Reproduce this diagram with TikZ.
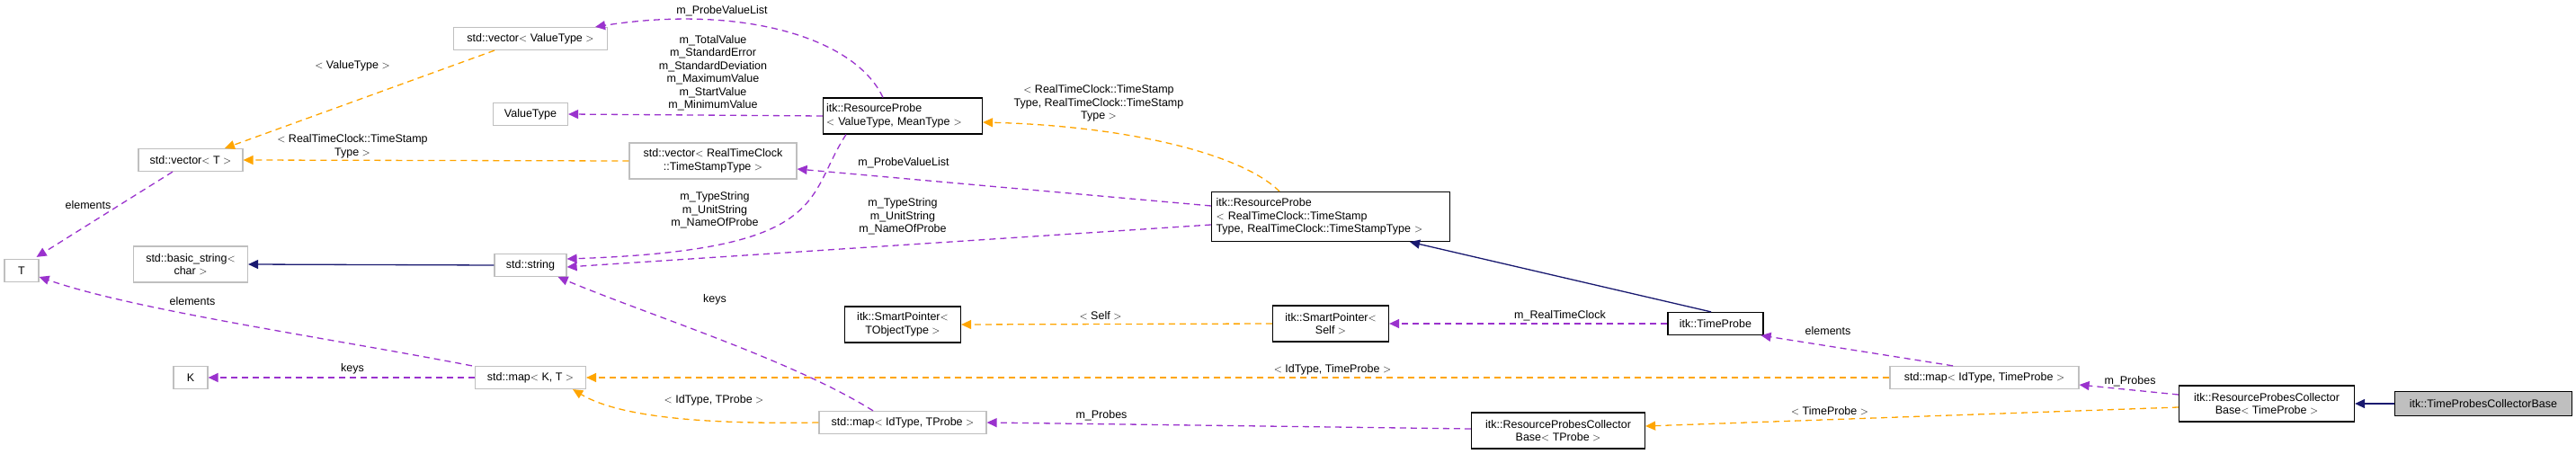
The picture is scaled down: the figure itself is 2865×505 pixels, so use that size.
\documentclass[tikz,border=0pt]{standalone}
\usepackage{fontspec}
\setmainfont{Liberation Sans}
\usetikzlibrary{arrows.meta}
\definecolor{purp}{HTML}{9A32CD}
\definecolor{orng}{HTML}{FFA500}
\definecolor{navy}{HTML}{191970}
\definecolor{gbord}{HTML}{BFBFBF}
\begin{document}
\begin{tikzpicture}[x=1pt,y=-1pt,
  font=\fontsize{12.5}{14.5}\selectfont,
  box/.style={draw=gbord,line width=1.2pt,rectangle,inner sep=2pt,align=center},
  bbox/.style={draw=black,line width=1.2pt,rectangle,inner sep=2pt,align=center},
  lbl/.style={inner sep=0pt,align=center},
  tip/.style={-{Triangle[length=11pt,width=10pt]}},
  mem/.style={tip,draw=purp,line width=1.3pt,dash pattern=on 7pt off 5pt},
  tmpl/.style={tip,draw=orng,line width=1.3pt,dash pattern=on 7pt off 5pt},
  inh/.style={tip,draw=navy,line width=1.3pt}]
\useasboundingbox (0,0) rectangle (2865,505);
% nodes
\node[box,minimum width=171pt,minimum height=25pt] (vecVT) at (590,43) {std::vector$<$ ValueType $>$};
\node[box,minimum width=83pt,minimum height=25pt] (VT) at (590,127) {ValueType};
\node[box,minimum width=116pt,minimum height=25pt] (vecT) at (212,178) {std::vector$<$ T $>$};
\node[box,minimum width=186pt,minimum height=40pt] (vecRTC) at (793,179) {std::vector$<$ RealTimeClock\\::TimeStampType $>$};
\node[box,minimum width=38pt,minimum height=25pt] (T) at (24,301) {T};
\node[box,minimum width=127pt,minimum height=40pt] (bstr) at (212,294) {std::basic\_string$<$\\char $>$};
\node[box,minimum width=80pt,minimum height=25pt] (str) at (590,295) {std::string};
\node[box,minimum width=38pt,minimum height=25pt] (K) at (212,420) {K};
\node[box,minimum width=123pt,minimum height=25pt] (mapKT) at (590,420) {std::map$<$ K, T $>$};
\node[box,minimum width=186pt,minimum height=25pt] (mapIT) at (1004,470) {std::map$<$ IdType, TProbe $>$};
\node[bbox,minimum width=177pt,minimum height=40pt,align=left,text width=170pt] (RPVT) at (1004,129) {itk::ResourceProbe\\$<$ ValueType, MeanType $>$};
\node[bbox,minimum width=265pt,minimum height=55pt,align=left,text width=255pt] (RPRTC) at (1480,241) {itk::ResourceProbe\\$<$ RealTimeClock::TimeStamp\\Type, RealTimeClock::TimeStampType $>$};
\node[bbox,minimum width=129pt,minimum height=40pt] (SPT) at (1004,361) {itk::SmartPointer$<$\\TObjectType $>$};
\node[bbox,minimum width=129pt,minimum height=40pt] (SPS) at (1480,360) {itk::SmartPointer$<$\\Self $>$};
\node[bbox,minimum width=106pt,minimum height=25pt] (TP) at (1908,360) {itk::TimeProbe};
\node[bbox,minimum width=193pt,minimum height=40pt] (RPCBT) at (1733,479) {itk::ResourceProbesCollector\\Base$<$ TProbe $>$};
\node[box,minimum width=210pt,minimum height=25pt] (mapITP) at (2207,420) {std::map$<$ IdType, TimeProbe $>$};
\node[bbox,minimum width=195pt,minimum height=40pt] (RPCBTP) at (2521,449) {itk::ResourceProbesCollector\\Base$<$ TimeProbe $>$};
\node[bbox,fill=gbord,minimum width=197pt,minimum height=27pt] (TPCB) at (2762,449) {itk::TimeProbesCollectorBase};
% edges
\draw[mem] ([xshift=-22pt]RPVT.north) .. controls (950,40) and (820,5) .. ([xshift=-14pt]vecVT.north east);
\node[lbl] (l1) at (803,12) {m\_ProbeValueList};
\draw[mem] (RPVT.west) -- (VT.east);
\node[lbl] (l2) at (793,81) {m\_TotalValue\\m\_StandardError\\m\_StandardDeviation\\m\_MaximumValue\\m\_StartValue\\m\_MinimumValue};
\draw[mem] ([xshift=-63pt]RPVT.south) .. controls (895,220) and (925,278) .. ([yshift=7pt]str.east);
\node[lbl] (l3) at (795,234) {m\_TypeString\\m\_UnitString\\m\_NameOfProbe};
\draw[tmpl] ([xshift=-40pt]vecVT.south) -- ([xshift=38pt]vecT.north);
\node[lbl] (l4) at (392,73) {$<$ ValueType $>$};
\draw[tmpl] (vecRTC.west) -- (vecT.east);
\node[lbl] (l5) at (392,163) {$<$ RealTimeClock::TimeStamp\\Type $>$};
\draw[mem] ([xshift=-20pt]vecT.south) -- ([xshift=-3pt,yshift=2pt]T.north east);
\node[lbl,fill=white,inner sep=2pt] (l6) at (98,228) {elements};
\draw[inh] (str.west) -- (bstr.east);
\draw[mem] ([xshift=-3pt]mapKT.north west) .. controls (360,375) and (150,345) .. ([yshift=-7pt]T.east);
\node[lbl] (l7) at (214,335) {elements};
\draw[mem] (mapKT.west) -- (K.east);
\node[lbl] (l8) at (392,410) {keys};
\draw[mem] ([xshift=-33pt]mapIT.north) .. controls (880,400) and (720,350) .. ([xshift=-10pt]str.south east);
\node[lbl] (l9) at (795,333) {keys};
\draw[tmpl] (mapIT.west) .. controls (790,472) and (690,465) .. ([xshift=-15pt]mapKT.south east);
\node[lbl] (l10) at (794,445) {$<$ IdType, TProbe $>$};
\draw[tmpl] ([xshift=-57pt]RPRTC.north) .. controls (1380,170) and (1250,140) .. ([yshift=-7pt]RPVT.east);
\node[lbl] (l11) at (1222,115) {$<$ RealTimeClock::TimeStamp\\Type, RealTimeClock::TimeStamp\\Type $>$};
\draw[mem] ([yshift=12pt]RPRTC.west) -- ([yshift=-9pt]vecRTC.east);
\node[lbl] (l12) at (1005,181) {m\_ProbeValueList};
\draw[mem] ([yshift=-9pt]RPRTC.west) -- ([yshift=-2pt]str.east);
\node[lbl] (l13) at (1004,241) {m\_TypeString\\m\_UnitString\\m\_NameOfProbe};
\draw[inh] ([xshift=-5pt]TP.north) -- ([xshift=-45pt]RPRTC.south east);
\draw[tmpl] (SPS.west) -- (SPT.east);
\node[lbl] (l14) at (1224,351) {$<$ Self $>$};
\draw[mem] (TP.west) -- (SPS.east);
\node[lbl] (l15) at (1735,351) {m\_RealTimeClock};
\draw[mem] ([xshift=-35pt]mapITP.north) -- ([xshift=-3pt]TP.south east);
\node[lbl] (l16) at (2033,368) {elements};
\draw[tmpl] (mapITP.west) -- (mapKT.east);
\node[lbl] (l17) at (1482,411) {$<$ IdType, TimeProbe $>$};
\draw[mem] ([yshift=10pt]RPCBTP.west) -- ([yshift=-8pt]mapITP.east);
\node[lbl] (l18) at (2369,424) {m\_Probes};
\draw[tmpl] ([yshift=-4pt]RPCBTP.west) -- ([yshift=5pt]RPCBT.east);
\node[lbl] (l19) at (2035,457) {$<$ TimeProbe $>$};
\draw[mem] ([yshift=2pt]RPCBT.west) -- (mapIT.east);
\node[lbl] (l20) at (1225,462) {m\_Probes};
\draw[inh] (TPCB.west) -- (RPCBTP.east);
\end{tikzpicture}
\end{document}
